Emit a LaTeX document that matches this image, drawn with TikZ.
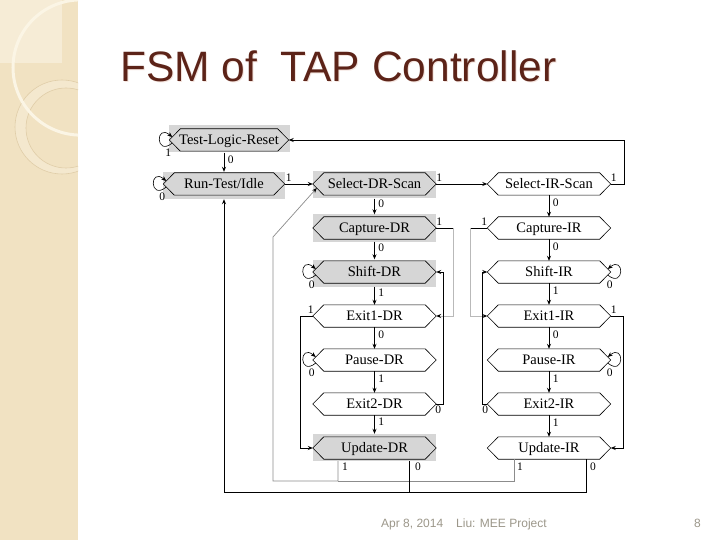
\documentclass[tikz,border=0pt]{standalone}
\usepackage{fontspec}
\setmainfont{Liberation Serif}
\newfontfamily\arialf{Liberation Sans}
\usetikzlibrary{arrows.meta}
\definecolor{panel}{RGB}{241,226,194}
\definecolor{panellight}{RGB}{246,236,214}
\definecolor{arcc}{RGB}{251,245,229}
\definecolor{ringc}{RGB}{224,205,168}
\definecolor{ringfill}{RGB}{244,232,206}
\definecolor{boxgray}{RGB}{214,214,214}
\definecolor{titlec}{RGB}{92,35,24}
\definecolor{shadowc}{RGB}{244,228,222}
\definecolor{footc}{RGB}{156,151,138}
\begin{document}
\begin{tikzpicture}[x=1pt,y=-1pt,
  hexn/.style={minimum height=22pt, minimum width=#1, inner sep=0pt, text height=9.5pt, text depth=0pt, font=\fontsize{14.5}{16}\selectfont},
  gbox/.style={fill=boxgray, minimum height=27pt, minimum width=#1, inner sep=0pt},
  hexline/.style={line width=0.6pt, draw=black},
  wire/.style={line width=0.7pt, draw=black},
  tip/.style={-{Stealth[length=5pt,width=4pt,color=black]}},
  arr/.style={wire, tip},
  gwire/.style={line width=0.7pt, draw=gray!55},
  gwire2/.style={line width=0.7pt, draw=gray!90},
  lab/.style={font=\fontsize{11.5}{12}\selectfont, inner sep=0.5pt}]
\useasboundingbox (0,0) rectangle (720,540);
\fill[white] (0,0) rectangle (720,540);
% left decorative panel
\fill[panel] (0,0) rectangle (78,540);
\begin{scope}
  \clip (0,0) rectangle (78,540);
  \fill[panellight] (0,0) rectangle (62,63);
  \fill[ringfill, even odd rule] (62,127) circle[radius=47pt] (66,128) circle[radius=40pt];
  \draw[ringc, line width=0.6pt] (62,127) circle[radius=47pt];
  \draw[ringc, line width=0.6pt] (66,128) circle[radius=40pt];
  \draw[arcc, line width=3pt] (80.6,67.5) circle[radius=67.6pt];
\end{scope}
% title
\node[anchor=base west, inner sep=0pt, text=shadowc, font=\arialf\fontsize{42.5}{50}\selectfont] (titleshadow) at (121,83) {FSM of\ \ TAP Controller};
\node[anchor=base west, inner sep=0pt, text=titlec, font=\arialf\fontsize{42.5}{50}\selectfont] (title) at (120,82) {FSM of\ \ TAP Controller};
% footer
\node[anchor=base west, inner sep=0pt, text=footc, font=\arialf\fontsize{12}{14}\selectfont] (date) at (381,527.5) {Apr 8, 2014};
\node[anchor=base west, inner sep=0pt, text=footc, font=\arialf\fontsize{12}{14}\selectfont] (proj) at (456,527.5) {Liu: MEE Project};
\node[anchor=base west, inner sep=0pt, text=footc, font=\arialf\fontsize{12}{14}\selectfont] (pg) at (694,527.5) {8};
% gray boxes
\node[gbox=121pt] (tlrb) at (229,139) {};
\node[gbox=122pt] (rtib) at (224,185.5) {};
\node[gbox=123pt] (sdrb) at (374.5,185) {};
\node[gbox=123pt] (cdrb) at (374.5,228) {};
\node[gbox=123pt] (shdrb) at (374.5,273) {};
\node[gbox=123pt] (udrb) at (374.5,447.5) {};
% state nodes
\node[hexn=119pt] (tlr) at (229,140) {Test-Logic-Reset};
\node[hexn=121pt] (rti) at (224,184) {Run-Test/Idle};
\node[hexn=123pt] (sdr) at (374.5,184) {Select-DR-Scan};
\node[hexn=123pt] (cdr) at (374.5,228) {Capture-DR};
\node[hexn=123pt] (shdr) at (374.5,272) {Shift-DR};
\node[hexn=123pt] (e1dr) at (374.5,316) {Exit1-DR};
\node[hexn=123pt] (pdr) at (374.5,360) {Pause-DR};
\node[hexn=123pt] (e2dr) at (374.5,404) {Exit2-DR};
\node[hexn=123pt] (udr) at (374.5,448) {Update-DR};
\node[hexn=123pt] (sir) at (549,184) {Select-IR-Scan};
\node[hexn=123pt] (cir) at (549,228) {Capture-IR};
\node[hexn=123pt] (shir) at (549,272) {Shift-IR};
\node[hexn=123pt] (e1ir) at (549,316) {Exit1-IR};
\node[hexn=123pt] (pir) at (549,360) {Pause-IR};
\node[hexn=123pt] (e2ir) at (549,404) {Exit2-IR};
\node[hexn=123pt] (uir) at (549,448) {Update-IR};
% hexagon outlines
\foreach \n in {tlr,rti,sdr,cdr,shdr,e1dr,pdr,e2dr,udr,sir,cir,shir,e1ir,pir,e2ir,uir}{
  \draw[hexline] (\n.west) -- ([xshift=11pt]\n.north west) -- ([xshift=-11pt]\n.north east)
    -- (\n.east) -- ([xshift=-11pt]\n.south east) -- ([xshift=11pt]\n.south west) -- cycle;
}
% self loops
\foreach \n/\l in {tlr/1,rti/0,shdr/0,pdr/0}{
  \draw[arr, line width=0.6pt] ([shift={(3,3)}]\n.west) .. controls +(-17,14) and +(-17,-14) .. ([shift={(3,-3)}]\n.west);
  \node[lab] (lp\n) at ([shift={(-1,13)}]\n.west) {\l};
}
\foreach \n/\l in {shir/0,pir/0}{
  \draw[arr, line width=0.6pt] ([shift={(-3,3)}]\n.east) .. controls +(17,14) and +(17,-14) .. ([shift={(-3,-3)}]\n.east);
  \node[lab] (lp\n) at ([shift={(-1,13)}]\n.east) {\l};
}
% vertical transitions
\draw[arr] (tlrb.south -| rti.north) -- node[lab, right=3pt, pos=0.35] (l0) {0} (rtib.north);
\draw[arr] (sdrb.south) -- node[lab, right=3pt, pos=0.35] (l1) {0} (cdrb.north);
\draw[arr] (cdrb.south) -- node[lab, right=3pt, pos=0.35] (l2) {0} (shdrb.north);
\draw[arr] (shdrb.south) -- node[lab, right=3pt, pos=0.35] (l3) {1} (e1dr.north);
\draw[arr] (e1dr.south) -- node[lab, right=3pt, pos=0.35] (l4) {0} (pdr.north);
\draw[arr] (pdr.south) -- node[lab, right=3pt, pos=0.35] (l5) {1} (e2dr.north);
\draw[arr] (e2dr.south) -- node[lab, right=3pt, pos=0.35] (l6) {1} (udrb.north);
\draw[arr] (sir.south) -- node[lab, right=3pt, pos=0.35] (l7) {0} (cir.north);
\draw[arr] (cir.south) -- node[lab, right=3pt, pos=0.35] (l8) {0} (shir.north);
\draw[arr] (shir.south) -- node[lab, right=3pt, pos=0.35] (l9) {1} (e1ir.north);
\draw[arr] (e1ir.south) -- node[lab, right=3pt, pos=0.35] (l10) {0} (pir.north);
\draw[arr] (pir.south) -- node[lab, right=3pt, pos=0.35] (l11) {1} (e2ir.north);
\draw[arr] (e2ir.south) -- node[lab, right=3pt, pos=0.35] (l12) {1} (uir.north);
% horizontal transitions
\draw[arr] (rti.east) -- (sdr.west);
\node[lab] (h1) at ([shift={(4,-6)}]rti.east) {1};
\draw[arr] (sdr.east) -- (sir.west);
\node[lab] (h2) at ([shift={(3,-6)}]sdr.east) {1};
\coordinate (f1) at (624,184);
\draw[arr] (sir.east) -- (f1) -- (f1 |- tlr.east) -- (tlr.east);
\node[lab] (h3) at ([shift={(3,-6)}]sir.east) {1};
% Capture -> Exit1
\coordinate (o1) at (453,228);
\draw[wire] (cdr.east) -- (o1);
\draw[gwire, tip] (o1) -- (o1 |- e1dr.east) -- (e1dr.east);
\node[lab] (h4) at ([shift={(3,-6)}]cdr.east) {1};
\coordinate (p1) at (470,228);
\draw[wire] (cir.west) -- (p1);
\draw[gwire, tip] (p1) -- (p1 |- e1ir.west) -- (e1ir.west);
\node[lab] (h5) at ([shift={(-3,-6)}]cir.west) {1};
% Exit2 -> Shift
\coordinate (q1) at (443,404);
\draw[arr] (e2dr.east) -- (q1) -- (q1 |- shdr.east) -- (shdr.east);
\node[lab] (h6) at ([shift={(2,6)}]e2dr.east) {0};
\coordinate (r1) at (482,404);
\draw[arr] (e2ir.west) -- (r1) -- (r1 |- shir.west) -- (shir.west);
\node[lab] (h7) at ([shift={(-2,6)}]e2ir.west) {0};
% Exit1 -> Update
\coordinate (s1) at (300,316);
\draw[arr] (e1dr.west) -- (s1) -- (s1 |- udr.west) -- (udr.west);
\node[lab] (h8) at ([shift={(-2,-6)}]e1dr.west) {1};
\coordinate (t1) at (623,316);
\draw[arr] (e1ir.east) -- (t1) -- (t1 |- uir.east) -- (uir.east);
\node[lab] (h9) at ([shift={(3,-6)}]e1ir.east) {1};
% Update 1 -> Select-DR-Scan
\coordinate (u1) at (338,481);
\coordinate (u2) at (273,481);
\coordinate (u3) at (273,237);
\draw[gwire2, tip] (u1 |- udrb.south) -- (u1) -- (u2) -- (u3) -- ([shift={(4,4)}]sdr.west);
\path (u1 |- udrb.south) ++(7,6) node[lab] (b1) {1};
\coordinate (v1) at (514,481);
\draw[gwire2] (v1 |- uir.south) -- (v1) -- (u1);
\path (v1 |- uir.south) ++(6,8) node[lab] (b2) {1};
% Update 0 -> Run-Test/Idle
\coordinate (w1) at (409,492);
\coordinate (w2) at (224,492);
\draw[arr] (w1 |- udrb.south) -- (w1) -- (w2) -- (rtib.south);
\path (w1 |- udrb.south) ++(9,6) node[lab] (b3) {0};
\coordinate (x1) at (586,492);
\draw[wire] (x1 |- uir.south) -- (x1) -- (w1);
\path (x1 |- uir.south) ++(7,8) node[lab] (b4) {0};
\end{tikzpicture}
\end{document}
